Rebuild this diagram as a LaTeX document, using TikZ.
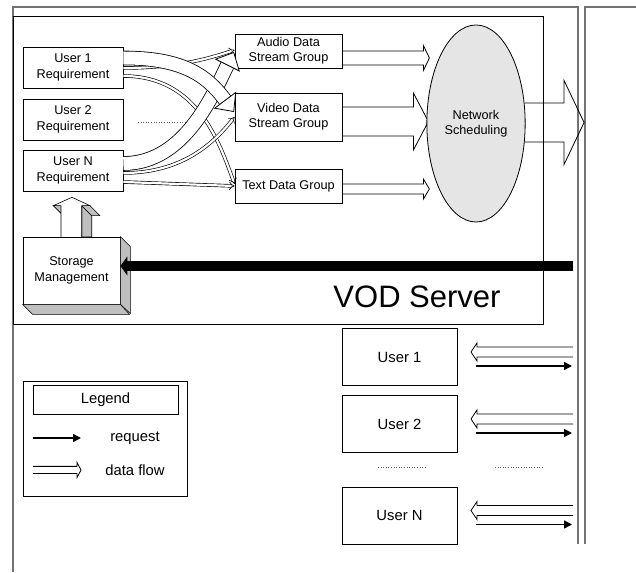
\documentclass[tikz,border=0pt]{standalone}
\usepackage{fontspec}
\setmainfont{Liberation Sans}
\usetikzlibrary{arrows.meta,shapes.geometric,calc}

\tikzset{
  box/.style={draw, line width=0.8pt, align=center, inner sep=1pt, font=\fontsize{12.7}{15.3}\selectfont},
  ubox/.style={draw, line width=0.8pt, minimum width=115pt, minimum height=57pt, font=\fontsize{14.8}{17}\selectfont},
  lbl/.style={font=\fontsize{14.8}{17}\selectfont},
  frame/.style={draw=black!55, line width=1.1pt},
  side/.style={fill=black!25, draw, line width=0.6pt, line join=round},
  widestream/.style={double=white, double distance=13pt, line width=0.8pt},
  thinstream/.style={double=white, double distance=2.2pt, line width=0.65pt, -Implies},
  bighead/.style={-{Triangle[length=15pt,width=28pt,fill=white]}, line width=0.8pt},
  request/.style={-{Triangle[length=8pt,width=8pt]}, line width=1.6pt},
}

% block arrow: tail, body length, half body, half head, head length
\newcommand\blockarrow[5]{%
  \draw[line width=0.8pt] ([yshift=#3]#1) -- ++(#2,0) -- ++(0,{#4-#3})
    -- ++(#5,{-(#4)}) -- ++({-(#5)},{-(#4)}) -- ++(0,{#4-#3}) -- ++({-(#2)},0);}

\begin{document}
\begin{tikzpicture}[x=1pt,y=1pt]
\useasboundingbox (0,0) rectangle (636,572);

% frames
\draw[frame] (13,0) |- (578,565) -- (578,28);
\draw[frame] (636,565) -| (585,28);
\draw[line width=0.8pt] (13,556) rectangle (543,248);
\node[font=\fontsize{31}{31}\selectfont] (srv) at (417,275.5) {VOD Server};

% requirements
\node[box, minimum width=100pt, minimum height=41pt] (u1) at (73,504.5) {User 1\\Requirement};
\node[box, minimum width=100pt, minimum height=41pt] (u2) at (73,452.5) {User 2\\Requirement};
\node[box, minimum width=100pt, minimum height=41pt] (uN) at (73,401.5) {User N\\Requirement};
\draw[dotted, line width=0.6pt, black!60] (138,450) -- (187,450);

% stream groups
\node[box, minimum width=107pt, minimum height=34pt] (audio) at (288.5,521) {Audio Data\\Stream Group};
\node[box, minimum width=107pt, minimum height=48pt] (video) at (288.5,455) {Video Data\\Stream Group};
\node[box, minimum width=107pt, minimum height=34pt] (text) at (288.5,386) {Text Data Group};

\coordinate (a-o) at ([yshift=-7]audio.east);
\blockarrow{a-o}{81}{7}{12.5}{6}
\coordinate (v-o) at ([yshift=-4.5]video.east);
\blockarrow{v-o}{71}{14.5}{28.5}{15}
\coordinate (t-o) at ([yshift=-3]text.east);
\blockarrow{t-o}{81}{5}{10}{6}

% scheduling
\node[ellipse, draw, fill=black!10, line width=0.8pt, minimum width=77pt, minimum height=197pt,
      align=center, font=\fontsize{12.7}{15.3}\selectfont] (net) at (476,448.5) {Network\\Scheduling};
\coordinate (n-o) at ([xshift=-1,yshift=1]net.east);
\blockarrow{n-o}{39.5}{19.5}{42}{20}

% thin streams
\draw[thinstream] ([yshift=-0.5]u1.east) .. controls +(50,0) and +(-30,-10) .. ([yshift=1]audio.west);
\draw[thinstream] ([yshift=-8.5]u1.east) .. controls +(75,0) and +(-15,40) .. ([yshift=2]text.west);
\draw[thinstream] ([yshift=-2.5]uN.east) .. controls +(60,0) and +(-20,-25) .. (video.west);
\draw[thinstream] ([yshift=-11.5]uN.east) -- (text.west);

% wide streams
\coordinate (wNe) at (227.3,506.6);
\coordinate (wNt) at (234,520);
\draw[widestream] ([yshift=7]uN.east) .. controls +(62,0) and +(-13.4,-26.8) .. (wNe);
\draw[bighead] (wNe) -- (wNt);
\coordinate (w1e) at (225,472);
\coordinate (w1t) at (234,460);
\draw[widestream] ([yshift=9.5]u1.east) .. controls +(57,0) and +(-19,26) .. (w1e);
\draw[bighead] (w1e) -- (w1t);

% storage
\node[box, minimum width=97pt, minimum height=67pt] (stor) at (71.5,301.5) {Storage\\Management};
\draw[side] (stor.north east) -- ++(10,-10) -- ++(0,-67) -- (stor.south east) -- cycle;
\draw[side] (stor.south west) -- ++(10,-10) -- ++(97,0) -- (stor.south east) -- cycle;

\draw[side] (81.7,366.3) -- (91.7,356.3) -- (91.7,335) -- (81.7,335) -- cycle;
\draw[side] (81.7,366.3) -- (90,366.3) -- (100,356.3) -- (91.7,356.3) -- cycle;
\draw[side] (53.3,366.3) -- (61,366.3) -- (71,356.3) -- (63.3,356.3) -- cycle;
\draw[fill=white, line width=0.6pt] (61,335) -- (61,366.3) -- (53.3,366.3) -- (72,374.7)
  -- (90,366.3) -- (81.7,366.3) -- (81.7,335);

\coordinate (srv-in) at (573,306);
\draw[-{Triangle[length=7pt,width=19pt]}, line width=10pt] (srv-in) -- (srv-in -| stor.east);

% users
\node[ubox] (p1) at (399.5,215) {User 1};
\node[ubox] (p2) at (399.5,148) {User 2};
\node[ubox] (pN) at (399.5,56.5) {User N};
\coordinate (rim) at (573,0);
\foreach \u in {p1,p2,pN} {
  \coordinate (\u-d) at ($(\u -| rim)+(0,5)$);
  \blockarrow{\u-d}{-96}{5}{9}{-6}
  \draw[request] ($(\u.east)+(19,-9)$) -- ($(\u -| rim)+(-1,-9)$);
}
\draw[dotted, line width=0.6pt, black!60] (378,105) -- (427,105);
\draw[dotted, line width=0.6pt, black!60] (495,105) -- (543,105);

% legend
\node[draw, line width=0.8pt, minimum width=164pt, minimum height=115pt] (lg) at (105,133.5) {};
\node[lbl, draw, line width=0.8pt, minimum width=145pt, minimum height=29pt] (lgt) at (105.5,172.5) {Legend};
\node[lbl] (lreq) at (135,134) {request};
\node[lbl] (lflow) at (135,102) {data flow};
\coordinate (lr) at (33,134);
\draw[request] (lr) -- ++(48,0);
\coordinate (lf) at (33,102);
\blockarrow{lf}{44}{3.6}{7.6}{4}
\end{tikzpicture}
\end{document}
